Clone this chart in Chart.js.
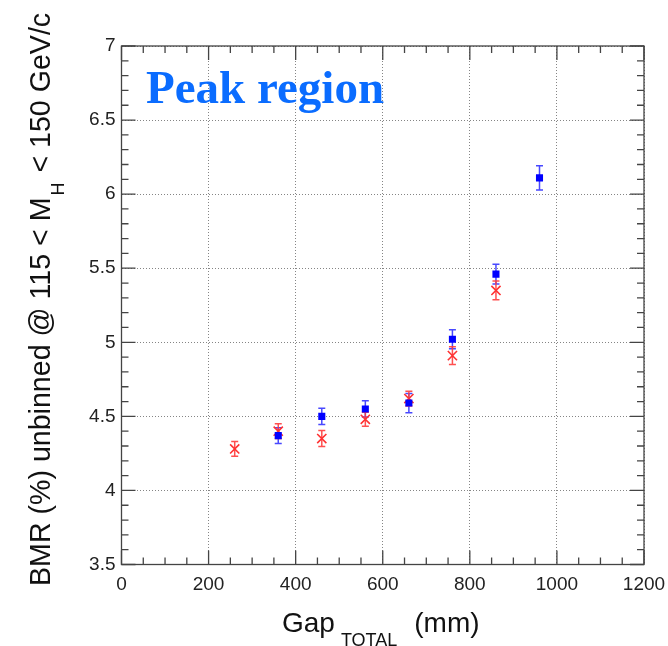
<!DOCTYPE html>
<html>
<head>
<meta charset="utf-8">
<script src="https://cdn.jsdelivr.net/npm/chart.js@4/dist/chart.umd.min.js"></script>
<style>
  html, body { margin: 0; padding: 0; background: #fff; }
  canvas { display: block; }
</style>
</head>
<body>
<canvas id="c" width="668" height="646"></canvas>
<script>
// ---- data ----
const gapRed   = [260, 360, 460, 560, 660, 760, 860];
const bmrRed   = [4.28, 4.40, 4.35, 4.48, 4.62, 4.91, 5.35];
const errRed   = [0.050, 0.050, 0.054, 0.047, 0.050, 0.060, 0.063];

const gapBlue  = [360, 460, 560, 660, 760, 860, 960];
const bmrBlue  = [4.37, 4.50, 4.55, 4.59, 5.02, 5.46, 6.11];
const errBlue  = [0.053, 0.055, 0.055, 0.065, 0.064, 0.067, 0.082];

const xTickValues = [0, 200, 400, 600, 800, 1000, 1200];
const yTickValues = [3.5, 4, 4.5, 5, 5.5, 6, 6.5, 7];
const xMinorStep = 50;
const yMinorStep = 0.1;

const annotationText = "Peak region";
const xTitleMain = "Gap", xTitleSub = "TOTAL", xTitleUnit = "(mm)";
const yTitlePre = "BMR (%) unbinned @ 115 < M", yTitleSub = "H", yTitlePost = " < 150 GeV/c";

const SANS = '"Liberation Sans", Arial, Helvetica, sans-serif';
const SERIF = '"Liberation Serif", "Times New Roman", serif';

const redPts  = gapRed.map((x, i) => ({ x: x, y: bmrRed[i], e: errRed[i] }));
const bluePts = gapBlue.map((x, i) => ({ x: x, y: bmrBlue[i], e: errBlue[i] }));

const errorBars = {
  id: 'errorBars',
  beforeDatasetsDraw(chart) {
    const ctx = chart.ctx;
    const ys = chart.scales.y;
    const colors = ['rgba(40,40,255,0.85)', 'rgba(255,60,60,0.9)'];
    chart.data.datasets.forEach((ds, di) => {
      const meta = chart.getDatasetMeta(di);
      ctx.save();
      ctx.strokeStyle = colors[di];
      ctx.lineWidth = 1.5;
      meta.data.forEach((pt, i) => {
        const d = ds.data[i];
        const x = pt.x;
        const y1 = ys.getPixelForValue(d.y - d.e);
        const y2 = ys.getPixelForValue(d.y + d.e);
        ctx.beginPath();
        ctx.moveTo(x, y1); ctx.lineTo(x, y2);
        ctx.moveTo(x - 3.5, y1); ctx.lineTo(x + 3.5, y1);
        ctx.moveTo(x - 3.5, y2); ctx.lineTo(x + 3.5, y2);
        ctx.stroke();
      });
      ctx.restore();
    });
  }
};

const frameAndTitles = {
  id: 'frameAndTitles',
  afterDraw(chart) {
    const ctx = chart.ctx;
    const a = chart.chartArea;
    const xs = chart.scales.x, ys = chart.scales.y;
    ctx.save();
    ctx.strokeStyle = '#444';
    ctx.lineWidth = 1.3;
    ctx.strokeRect(a.left, a.top, a.right - a.left, a.bottom - a.top);

    // x ticks (bottom & top, inward)
    ctx.beginPath();
    for (let v = xs.min; v <= xs.max + 1e-9; v += xMinorStep) {
      const px = xs.getPixelForValue(v);
      const major = xTickValues.some(t => Math.abs(t - v) < 1e-6);
      const len = major ? 14 : 7;
      ctx.moveTo(px, a.bottom); ctx.lineTo(px, a.bottom - len);
      ctx.moveTo(px, a.top); ctx.lineTo(px, a.top + len);
    }
    // y ticks (left & right, inward)
    const nY = Math.round((ys.max - ys.min) / yMinorStep);
    for (let k = 0; k <= nY; k++) {
      const v = ys.min + k * yMinorStep;
      const py = ys.getPixelForValue(v);
      const major = yTickValues.some(t => Math.abs(t - v) < 1e-6);
      const len = major ? 14 : 7;
      ctx.moveTo(a.left, py); ctx.lineTo(a.left + len, py);
      ctx.moveTo(a.right, py); ctx.lineTo(a.right - len, py);
    }
    ctx.stroke();

    // annotation
    ctx.fillStyle = 'rgb(10,108,255)';
    ctx.font = 'bold 47px ' + SERIF;
    ctx.textAlign = 'left';
    ctx.textBaseline = 'alphabetic';
    ctx.fillText(annotationText, 146, 103);

    // x axis title with subscript
    ctx.fillStyle = '#111';
    const big = '28px ' + SANS, small = '18px ' + SANS;
    let x0 = 282;
    ctx.font = big;
    ctx.fillText(xTitleMain, x0, 632);
    x0 += ctx.measureText(xTitleMain).width + 6;
    ctx.font = small;
    ctx.fillText(xTitleSub, x0, 646);
    x0 += ctx.measureText(xTitleSub).width + 17;
    ctx.font = big;
    ctx.fillText(xTitleUnit, x0, 632);

    // y axis title with subscript, rotated
    const bigY = '28.6px ' + SANS, smallY = '18px ' + SANS;
    ctx.translate(50, 586);
    ctx.rotate(-Math.PI / 2);
    let yx = 0;
    ctx.font = bigY;
    ctx.fillText(yTitlePre, yx, 0);
    yx += ctx.measureText(yTitlePre).width + 2;
    ctx.font = smallY;
    ctx.fillText(yTitleSub, yx, 14);
    yx += ctx.measureText(yTitleSub).width + 2;
    ctx.font = bigY;
    ctx.fillText(yTitlePost, yx, 0);
    ctx.restore();
  }
};

const fmt = v => (Math.abs(v - Math.round(v)) < 1e-9 ? String(Math.round(v)) : String(v));

new Chart(document.getElementById('c'), {
  type: 'scatter',
  data: {
    datasets: [
      {
        label: 'blue',
        data: bluePts,
        pointStyle: 'rect',
        pointRadius: 5,
        pointHoverRadius: 5,
        backgroundColor: '#0000ff',
        borderColor: '#0000ff',
        borderWidth: 0,
        showLine: false
      },
      {
        label: 'red',
        data: redPts,
        pointStyle: 'crossRot',
        pointRadius: 6.5,
        pointHoverRadius: 6.5,
        borderColor: 'rgb(255,50,50)',
        backgroundColor: 'rgb(255,50,50)',
        borderWidth: 1.6,
        showLine: false
      }
    ]
  },
  options: {
    responsive: false,
    animation: false,
    events: [],
    layout: { padding: { left: 0, top: 46, right: 24, bottom: 0 } },
    plugins: { legend: { display: false }, tooltip: { enabled: false } },
    scales: {
      x: {
        type: 'linear',
        min: 0, max: 1200,
        afterFit(s) { s.height = 81.5; s.paddingLeft = 0; s.paddingRight = 0; },
        afterBuildTicks(s) { s.ticks = xTickValues.map(v => ({ value: v })); },
        ticks: {
          font: { family: SANS, size: 19 },
          color: '#222',
          padding: 9,
          maxRotation: 0,
          autoSkip: false,
          callback: v => fmt(v)
        },
        grid: {
          color: 'rgba(120,120,120,0.9)',
          lineWidth: 1,
          drawTicks: false
        },
        border: { display: false, dash: [1, 2] }
      },
      y: {
        type: 'linear',
        min: 3.5, max: 7,
        afterFit(s) { s.width = 121.5; s.paddingTop = 0; s.paddingBottom = 0; },
        afterBuildTicks(s) { s.ticks = yTickValues.map(v => ({ value: v })); },
        ticks: {
          font: { family: SANS, size: 19 },
          color: '#222',
          padding: 6,
          autoSkip: false,
          callback: v => fmt(v)
        },
        grid: {
          color: 'rgba(120,120,120,0.9)',
          lineWidth: 1,
          drawTicks: false
        },
        border: { display: false, dash: [1, 2] }
      }
    }
  },
  plugins: [errorBars, frameAndTitles]
});
</script>
</body>
</html>
